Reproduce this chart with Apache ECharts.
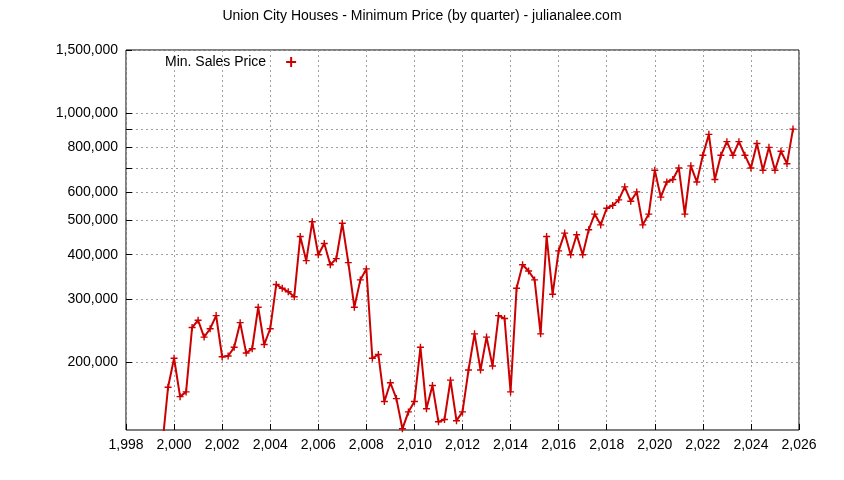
<!DOCTYPE html>
<html>
<head>
<meta charset="utf-8">
<script src="https://cdn.jsdelivr.net/npm/echarts@6/dist/echarts.min.js"></script>
<style>html,body{margin:0;padding:0;background:#fff}#chart{width:844px;height:480px}</style>
</head>
<body>
<div id="chart"></div>
<script>
// quarterly minimum prices, first quarter = 1999.5
var firstQuarter = 1999.5;
var prices = [
  115000, 170000, 205000, 160000, 165000, 250000, 262000, 235000, 248000, 270000,
  207000, 208000, 220000, 258000, 212000, 218000, 285000, 224000, 248000, 330000,
  322000, 315000, 305000, 450000, 385000, 495000, 400000, 430000, 375000, 390000,
  490000, 380000, 285000, 340000, 365000, 205000, 210000, 155000, 175000, 158000,
  130000, 145000, 155000, 220000, 148000, 172000, 136000, 138000, 178000, 137000,
  145000, 190000, 240000, 190000, 235000, 195000, 270000, 265000, 165000, 322000,
  375000, 360000, 340000, 240000, 450000, 310000, 410000, 460000, 400000, 455000,
  400000, 470000, 520000, 485000, 540000, 550000, 570000, 620000, 565000, 600000,
  485000, 520000, 690000, 580000, 640000, 650000, 700000, 520000, 710000, 640000,
  760000, 870000, 650000, 760000, 830000, 760000, 830000, 760000, 700000, 820000,
  690000, 800000, 690000, 780000, 720000, 900000
];
var yTicks = [200000, 300000, 400000, 500000, 600000, 700000, 800000, 900000, 1000000, 1500000];
var yLabels = [200000, 300000, 400000, 500000, 600000, 800000, 1000000, 1500000];

var points = prices.map(function (p, i) { return [firstQuarter + i * 0.25, p]; });
var cross = 'path://M4,0H6V4H10V6H6V10H4V6H0V4H4Z';
var font = 'Liberation Sans, Arial, sans-serif';

var chart = echarts.init(document.getElementById('chart'));
chart.setOption({
  animation: false,
  title: {
    text: 'Union City Houses - Minimum Price (by quarter) - julianalee.com',
    left: 'center', top: 4,
    textStyle: { fontFamily: font, fontSize: 14, fontWeight: 'normal', color: '#000' }
  },
  legend: {
    left: 160, top: 50, align: 'right',
    itemWidth: 40, itemHeight: 10,
    textStyle: { fontFamily: font, fontSize: 14, color: '#000' },
    data: [{ name: 'Min. Sales Price', icon: cross }]
  },
  grid: { left: 126, right: 45, top: 50, bottom: 50, show: true, borderColor: '#000', borderWidth: 1 },
  xAxis: {
    type: 'value', min: 1998, max: 2026, interval: 2,
    axisLine: { show: false },
    axisTick: { inside: true, length: 6, lineStyle: { color: '#000' } },
    axisLabel: { fontFamily: font, fontSize: 14, color: '#000', margin: 8 },
    splitLine: { lineStyle: { color: '#a0a0a0', type: [2, 3] } }
  },
  yAxis: {
    type: 'log', min: 129000, max: 1500000,
    axisLine: { show: false },
    axisTick: { inside: true, length: 6, customValues: yTicks, lineStyle: { color: '#000' } },
    axisLabel: { fontFamily: font, fontSize: 14, color: '#000', customValues: yLabels, margin: 8 },
    splitLine: { lineStyle: { color: '#a0a0a0', type: [2, 3] } },
    minorTick: { show: false }
  },
  series: [{
    name: 'Min. Sales Price', type: 'line', data: points,
    symbol: cross, symbolSize: 7,
    itemStyle: { color: '#cc0000' },
    lineStyle: { color: '#cc0000', width: 2 }
  }]
});
</script>
</body>
</html>
